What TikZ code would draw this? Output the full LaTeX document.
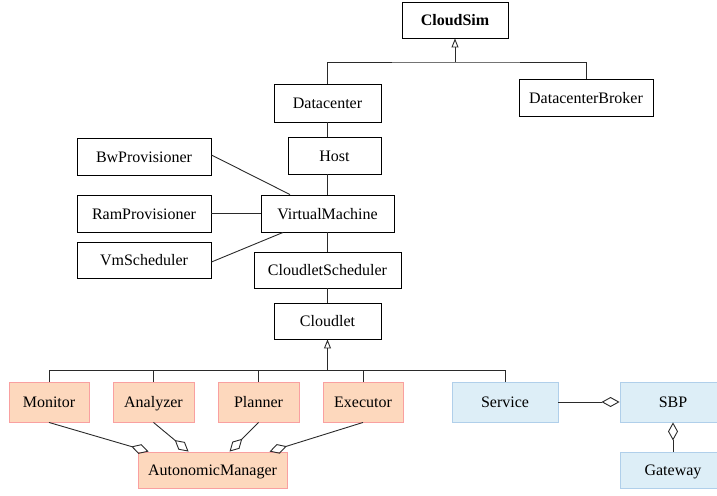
\documentclass[tikz,border=0pt]{standalone}
\usepackage{fontspec}
\setmainfont{Liberation Serif}
\newfontfamily\tnr{Liberation Serif}
\usetikzlibrary{arrows.meta,shadows}
\definecolor{orfill}{HTML}{FDD8BD}
\definecolor{ordraw}{HTML}{F9A0A0}
\definecolor{blfill}{HTML}{DDEEF7}
\definecolor{bldraw}{HTML}{B0CFEA}
\definecolor{ln}{HTML}{2A2A2A}
\begin{document}
\begin{tikzpicture}[x=1pt,y=-1pt,
  font=\tnr\fontsize{16}{19}\selectfont,
  every node/.style={text height=11pt,text depth=0pt},
  cls/.style={draw=black,line width=0.9pt,fill=white,inner sep=0pt,minimum height=37pt},
  orbox/.style={draw=ordraw,line width=0.9pt,fill=orfill,inner sep=0pt,minimum height=40pt,
     drop shadow={shadow xshift=1.2pt,shadow yshift=-1.2pt,opacity=0.12}},
  blbox/.style={draw=bldraw,line width=0.9pt,fill=blfill,inner sep=0pt,minimum height=40pt,
     drop shadow={shadow xshift=1.2pt,shadow yshift=-1.2pt,opacity=0.12}},
  conn/.style={draw=ln,line width=0.9pt},
  gen/.style={conn,-{Triangle[open,length=9pt,width=7pt]}},
  agg/.style={conn,{Diamond[open,length=18pt,width=10pt]}-},
]
\useasboundingbox (0,0) rectangle (717,495);
\begin{scope}
\clip (0,0) rectangle (717,495);
% white class boxes
\node[cls,minimum width=106pt,minimum height=36pt,font=\tnr\fontsize{16}{19}\selectfont\bfseries] (cloudsim) at (455,20) {CloudSim};
\node[cls,minimum width=107pt,minimum height=38pt] (datacenter) at (327.5,103) {Datacenter};
\node[cls,minimum width=134pt] (broker) at (586,97.5) {DatacenterBroker};
\node[cls,minimum width=93pt] (host) at (334.5,155.5) {Host};
\node[cls,minimum width=134pt] (bw) at (144,156.5) {BwProvisioner};
\node[cls,minimum width=133pt] (vm) at (327.5,213.5) {VirtualMachine};
\node[cls,minimum width=134pt] (ram) at (144,213.5) {RamProvisioner};
\node[cls,minimum width=134pt,minimum height=36pt] (vms) at (144,260) {VmScheduler};
\node[cls,minimum width=147pt,minimum height=36pt] (cs) at (327.5,270) {CloudletScheduler};
\node[cls,minimum width=107pt,minimum height=36pt] (cloudlet) at (327.5,321) {Cloudlet};
% coloured boxes
\node[orbox,minimum width=80pt] (monitor) at (49,402) {Monitor};
\node[orbox,minimum width=81pt] (analyzer) at (153.5,402) {Analyzer};
\node[orbox,minimum width=81pt] (planner) at (258.5,402) {Planner};
\node[orbox,minimum width=80pt] (executor) at (363,402) {Executor};
\node[orbox,minimum width=149pt,minimum height=36pt] (am) at (212.5,470) {AutonomicManager};
\node[blbox,minimum width=106pt] (service) at (505,402) {Service};
\node[blbox,minimum width=106pt] (sbp) at (673,402) {SBP};
\node[blbox,minimum width=106pt,minimum height=36pt] (gateway) at (673,470) {Gateway};
% junctions
\coordinate (j1) at (455,62);
\coordinate (j2) at (327.5,370);
% generalisation to CloudSim
\draw[conn] (datacenter.north) |- (j1) -| (broker.north);
\draw[gen] (j1) -- (cloudsim.south);
% chain
\draw[conn] (datacenter.south) -- (datacenter.south |- host.north);
\draw[conn] (vm.north |- host.south) -- (vm.north);
\draw[conn] (vm.south) -- (cs.north);
\draw[conn] (cs.south) -- (cloudlet.north);
% provisioners
\draw[conn] ([yshift=1.5pt]bw.east) -- ([xshift=-37.5pt]vm.north);
\draw[conn] (ram.east) -- (vm.west);
\draw[conn] ([yshift=-2pt]vms.east) -- ([xshift=-44.5pt]vm.south);
% generalisation to Cloudlet
\draw[conn] (monitor.north) |- (service.north |- j2) -- (service.north);
\draw[conn] (analyzer.north) -- (analyzer.north |- j2);
\draw[conn] (planner.north) -- (planner.north |- j2);
\draw[conn] (executor.north) -- (executor.north |- j2);
\draw[gen] (j2) -- (cloudlet.south);
% aggregations
\draw[agg] ([xshift=11pt]am.north west) -- (monitor.south);
\draw[agg] ([xshift=51pt]am.north west) -- (analyzer.south);
\draw[agg] ([xshift=92pt]am.north west) -- (planner.south);
\draw[agg] ([xshift=132pt]am.north west) -- (executor.south);
\draw[agg] (sbp.west) -- (service.east);
\draw[agg] (sbp.south) -- (gateway.north);
\end{scope}
\end{tikzpicture}
\end{document}
